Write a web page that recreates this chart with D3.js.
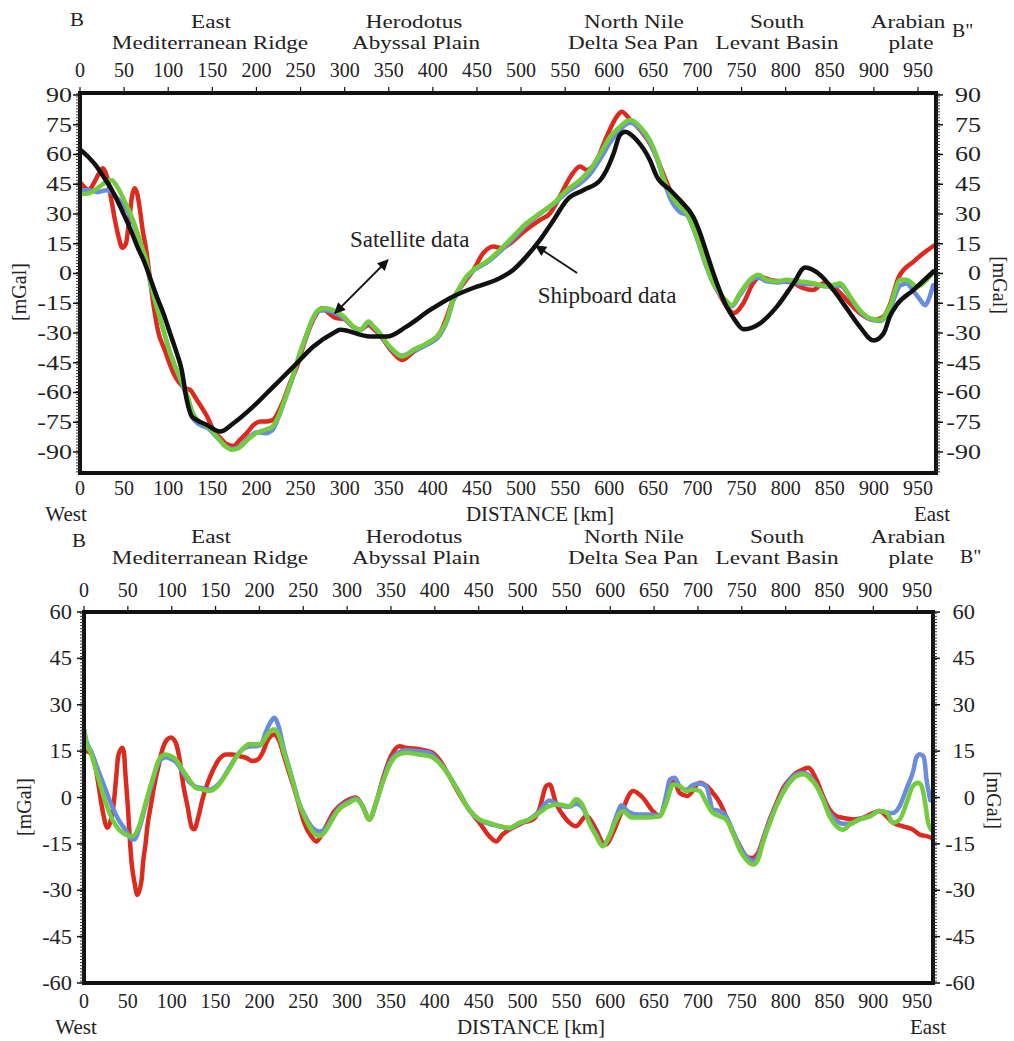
<!DOCTYPE html>
<html>
<head>
<meta charset="utf-8">
<script src="https://cdn.jsdelivr.net/npm/d3@7"></script>
<style>
  html, body { margin: 0; padding: 0; background: #fff; }
  svg { display: block; }
  text { font-family: "Liberation Serif", "Times New Roman", serif; fill: #222; }
</style>
</head>
<body>
<svg id="chart" width="1014" height="1041"></svg>
<script>
// ---- data: [distance km, anomaly mGal] ----
const topRed = [[0,46],[5,43.5],[10,42],[15,45],[21,50],[26,53],[31,48],[36,36],[40,26],[44,18],[48,13],[52,15],[56,28],[59,39],[62,43],[65,40],[68,32],[71,22],[75,12],[78,2],[83,-15],[89,-30],[96,-38.5],[100,-43.6],[106,-50.3],[113,-55.3],[119,-57.8],[125,-58.7],[130,-62],[136,-66.2],[144,-72],[151,-78.8],[159,-83],[166,-86],[174,-87],[181,-84],[189,-80.5],[197,-76.3],[204,-74.6],[212,-74.6],[219,-73.8],[225,-69.6],[231,-63.7],[238,-55.3],[246,-46.9],[253,-36.8],[261,-26.8],[268.5,-20],[274,-17.5],[282,-20],[290,-22.5],[299,-23],[310,-27],[318,-28.4],[327,-26],[333,-28],[340,-31],[348,-36],[355,-40],[365,-43.6],[378,-39.5],[393,-35.5],[408,-30],[416,-21.7],[423,-13],[435,-4.9],[446,1.8],[457,10.2],[469,13.6],[478,12.7],[487.5,15.2],[503,21.1],[521.5,27],[533,30.4],[544,38.8],[556,48.8],[567,53.9],[574.5,52.2],[586,57.2],[597,69],[608.5,79.1],[614,81.6],[624,77.4],[635,72.4],[650,62.3],[661,50.5],[670,41],[680,34],[688,30.4],[695,23.6],[703,13.6],[710.5,3.5],[718,-4.9],[725.6,-11],[733,-16.7],[741,-20],[752,-15],[763,-4.9],[771,-1.6],[782,-3.2],[797,-4],[809,-4.9],[820,-7.4],[831,-8.3],[843,-4.9],[854,-6.6],[869,-13.3],[884,-20],[899.5,-23.4],[910,-22],[918,-16],[928,-2],[945,6],[960,11.5],[968,14]];
const topBlue = [[0,42],[10,42],[20,41],[30,42],[36,41],[42,38],[50,34],[57,29],[64,21],[70,13],[75,6],[80,-5],[87,-16.7],[94.5,-28.4],[101,-38.5],[108,-47],[116,-56],[122,-64],[128,-73],[135,-76],[145,-78],[155,-82.5],[165,-87],[172,-88.5],[180,-87.5],[190,-83.5],[200,-80],[210,-80.5],[218,-79],[225,-72.5],[232,-64],[240,-54],[248,-42],[256,-32],[263,-24],[270,-19],[278,-18.5],[287,-19.5],[299,-22.5],[310,-27],[317.5,-28.6],[327,-25],[333,-27],[340,-30.5],[348,-35.5],[355,-39],[365,-41.5],[378,-39],[393,-36],[408,-31],[416,-24],[423,-14],[431,-7],[438,-2],[446,1.5],[461,5.5],[476,11],[491,17.5],[506,24.5],[521.5,30],[537,35],[552,41],[567,45.5],[578,50],[590,58],[601,66],[612,72.5],[623.6,76],[635,73],[646,66],[654,58],[661,48],[669,38],[680,31],[688,29.5],[695,23],[703,13],[710.5,3],[718,-5],[725.6,-10.5],[733,-14],[739,-16.5],[748,-11],[759.5,-4],[769,-2],[778.5,-4],[790,-4.5],[801,-4],[816,-5],[831,-5.5],[846.5,-6.5],[861.6,-6],[873,-12],[884,-19],[896,-23],[907,-24],[918,-18],[930,-6],[937,-5],[945,-9],[952,-13],[958,-16],[963,-12],[967,-6]];
const topGreen = [[0,40],[10,40.4],[20,43],[30,46.3],[36,47],[42,43.8],[50,37],[57,30.4],[64,22],[70,13.6],[75,6.8],[80,-5],[87,-16.7],[94.5,-28.4],[101,-38.5],[108,-47],[116,-55.3],[122,-62],[128,-70.4],[135,-74.6],[145,-77.2],[155,-82.2],[165,-87.2],[172,-88.9],[180,-88],[190,-83.9],[200,-80.5],[210,-78.8],[218,-77.2],[225,-72],[232,-63.7],[240,-53.6],[248,-41.9],[256,-31.8],[263,-23.4],[270,-18.4],[278,-17.5],[287,-18.4],[299,-21.7],[310,-26.8],[317.5,-28.4],[327,-24.2],[333,-26.8],[340,-30.1],[348,-35.2],[355,-38.5],[365,-41.9],[378,-38.5],[393,-35.2],[408,-30.1],[416,-23.4],[423,-13.3],[431,-6.6],[438,-1.6],[446,1.8],[461,6],[476,11.9],[491,18.6],[506,25.3],[521.5,30.4],[537,35.4],[552,42.1],[567,47.2],[578,52.2],[590,60.6],[601,69],[612,74],[623.6,77.4],[635,74],[646,67.3],[654,58.9],[661,48.8],[669,40.4],[680,33.7],[688,30.4],[695,23.6],[703,13.6],[710.5,3.5],[718,-4.9],[725.6,-10],[733,-14],[739,-16],[748,-10],[759.5,-3.2],[769,-0.7],[778.5,-3.2],[790,-4],[801,-3.2],[816,-4],[831,-4.9],[846.5,-6.6],[861.6,-4.9],[873,-11.6],[884,-18.4],[896,-22.6],[907,-23.4],[918,-16.7],[930,-3.2],[937,-3.2],[949,-6.6],[960,-3.2],[966,0]];
const topBlack = [[0,62.5],[10,58.5],[19,53.9],[27,48.5],[34,43.8],[42,37],[49,30.4],[55,24.5],[60.5,18.6],[66,12.5],[72,6.8],[79,-1.6],[87,-11.6],[94.5,-20],[102,-30],[109.6,-40],[115.3,-48.6],[121,-63.7],[126.6,-72],[132,-73.8],[143.6,-76.3],[158.8,-79.7],[173.9,-75.5],[196.6,-67],[219.3,-57],[242,-47],[264.6,-36.8],[287.3,-30],[295,-28.4],[329,-31.8],[348,-31.8],[370,-26.8],[397,-18.4],[423,-11.6],[450,-6.6],[472,-3.2],[491,1.8],[506,8.5],[521.5,16.9],[537,27],[552,37.1],[571,42.1],[590,47.2],[597,52.2],[605,60.6],[612,69.8],[618,71.5],[631,67.3],[646,57.2],[654,48.8],[669,42.1],[680,37],[695,28.7],[703,20.3],[710.5,10.2],[718,0.1],[725.6,-9.1],[733,-16.7],[741,-22.6],[752,-28.1],[771,-25.1],[790,-16.7],[809,-4.9],[822,3],[839,-0.7],[854,-8.3],[869,-17.5],[884,-26.8],[899.5,-33.8],[911,-30.2],[918,-21.7],[926,-15.8],[945,-8.3],[967.5,1]];

const botRed = [[0,15],[5.7,14.7],[11.4,12.3],[16,5],[21,-3.9],[26.6,-9.8],[30,-8],[34,-1.7],[37,7.5],[39,13.4],[43.7,16.1],[45.6,14.5],[47,8.5],[49.4,-0.6],[54.3,-21.2],[58,-28.2],[60.8,-31.5],[65.7,-26.6],[67.3,-21.2],[70.3,-14.7],[72.3,-9.3],[76.1,-2.8],[80,3.7],[85,10.2],[89.5,15.6],[95,18.8],[99,19.4],[104.6,17.7],[108.4,13.4],[113.4,3.7],[118,-2.8],[123,-9.8],[125.6,-10.3],[130.5,-6.1],[135,-0.7],[141,4.7],[146.5,8.5],[154,12.3],[162,13.9],[169,13.9],[177,13.4],[185,12.8],[192,11.8],[198,12.3],[203.6,14.5],[209,18.3],[213,19.9],[217,20.4],[222.6,18.3],[228,13.4],[234,8],[240,2.6],[245.5,-2.8],[251,-8.2],[259,-12.5],[265,-14.2],[270,-12.5],[278,-8.2],[284,-5],[291,-2.8],[302.5,-0.6],[310,0],[317.7,-2.8],[325.3,-7.1],[333,-1.7],[340.5,5.8],[350,13.4],[359.5,16.6],[367,16.1],[382,15.6],[397.5,14.5],[405,12.3],[416.5,6.9],[428,1],[439,-3.9],[451,-8.2],[462,-12.5],[470,-14.2],[477,-12],[489,-9.8],[500,-8.2],[512,-7.1],[519,-3.9],[527,3.7],[531,4.2],[538,-1.7],[550,-7.1],[561,-9.3],[572.5,-6.1],[584,-10.4],[591.5,-14.7],[595,-15.2],[603,-11.5],[614,-3.9],[626,2.1],[637,0],[648.5,-4.4],[656,-6],[668,2.6],[673,5.3],[679,1.5],[688,0.5],[702,4.8],[710,3.7],[717,1.5],[725,-1.7],[732,-6.1],[740,-11.5],[748,-15.8],[755,-19],[761,-19.6],[768.5,-17.9],[774,-13.6],[782,-7],[790,-1.5],[797,3],[805,6],[812,8],[820,9.1],[825.5,9.6],[835,5.8],[842.6,0.4],[850,-3.9],[858,-6.1],[865.5,-6.6],[877,-7.1],[888,-6.6],[900,-5],[907,-4.4],[915,-6.1],[922.6,-8.2],[934,-9.3],[945,-10.4],[953,-12],[960.6,-12.5],[966,-13]];
const botBlue = [[0,22],[3,18],[8,15],[14,10.5],[20,6],[26,1.5],[33,-3.5],[40,-7.5],[47.5,-10.5],[55,-13.6],[58,-13.5],[63,-10],[70.3,-2.5],[78,5],[85.5,11.5],[93,13],[99,12.5],[104.6,11.5],[112,8.5],[120,5],[127.4,3.5],[135,3],[142.6,2.5],[150,3.5],[158,6],[165.4,9.5],[173,13],[180.6,15.5],[188,16.5],[196,16.6],[201.5,17],[207,21],[213,24.5],[217,25.8],[222.4,22.5],[228,15.5],[234,9.5],[239.5,4],[245,-1.5],[253,-6.5],[260.4,-9.8],[268,-11],[273.7,-10.5],[281,-7.5],[289,-4],[302.5,-1.2],[310,-0.3],[317.7,-2.8],[325.3,-7],[333,-1.7],[340.5,5],[348,11],[355.7,14],[367,15.3],[382,15],[393.7,14.5],[405,11.5],[416.5,7],[428,1.5],[439,-3.9],[451,-7.3],[462,-8.5],[473.6,-9.3],[485,-10],[496,-8.5],[508,-7],[519,-4.5],[530.7,-1],[542,-2.5],[553.5,-3],[561,-2],[569,-3.5],[576,-8],[584,-12],[591.5,-15.5],[599,-12.5],[607,-6],[613,-2.5],[620,-4.5],[632,-5.5],[645,-5.5],[656,-6],[664,1],[667.8,5.8],[673.5,6.4],[679,3.7],[687,2.5],[694,4],[702,4.5],[709.6,3.5],[717,-3.9],[725,-4.4],[732,-6],[740,-11],[747.6,-16],[755,-19],[763,-20.5],[768.5,-19],[774,-14],[782,-7.5],[789.4,-2.5],[797,2],[804.6,5.5],[812,7.5],[820,8],[827,7],[835,4],[842.6,-0.5],[850,-5],[858,-7.5],[865.5,-8.5],[873,-8.5],[884.5,-7],[896,-6],[907,-4.4],[915,-4.8],[922.6,-5],[930,-2.8],[938,3],[945.4,8.5],[949,12.9],[953,14],[956.8,13.4],[958.7,11.2],[960.6,5.8],[962.5,2.6],[965,-1]];
const botGreen = [[0,22],[2.7,17.7],[7.6,14.5],[13.3,9.1],[19,3.7],[24.7,-1.7],[32.3,-7.1],[40,-10.4],[47.5,-12],[55,-12.5],[62.7,-9.3],[70.3,-1.7],[78,5.8],[85.5,12.3],[93,13.9],[99,13.4],[104.6,12.3],[112,9.1],[120,5.8],[127.4,3.1],[135,2.6],[142.6,2.1],[150,3.1],[158,5.8],[165.4,9.1],[173,12.8],[180.6,15.6],[188,17.2],[196,17.2],[201.5,17.2],[207,19.4],[213,21.5],[216.7,22.1],[222.4,19.9],[228,14.5],[234,9.1],[239.5,3.7],[245,-1.7],[253,-7.1],[260.4,-10.9],[268,-12.5],[273.7,-11.5],[281,-8.2],[289,-4.4],[302.5,-1.7],[310,-0.6],[317.7,-2.8],[325.3,-7.1],[333,-1.7],[340.5,4.8],[348,10.2],[355.7,13.4],[367,14.5],[382,13.9],[393.7,13.4],[405,11.2],[416.5,6.9],[428,1.5],[439,-3.9],[451,-7.1],[462,-8.2],[473.6,-9.3],[485,-9.8],[496,-8.2],[508,-7.1],[519,-5],[530.7,-2.8],[542,-2.3],[553.5,-2.8],[561,-0.6],[569,-2.8],[576,-8.2],[584,-12.5],[591.5,-15.8],[599,-12.5],[607,-7.1],[614,-4.4],[625,-6.5],[640,-6.5],[656,-6.1],[664,-1.7],[671.6,4.2],[679,3.7],[687,2.1],[694,2.6],[702,2.1],[709.6,-1.7],[717,-5],[725,-6.1],[732,-7.1],[740,-11.5],[747.6,-16.9],[755,-20.1],[763,-21.7],[768.5,-20.1],[774,-14.7],[782,-8.2],[789.4,-2.8],[797,1.5],[804.6,4.8],[812,6.9],[820,7.5],[827,6.4],[835,3.7],[842.6,-0.6],[850,-6.1],[858,-9.3],[865.5,-10.4],[873,-8.8],[884.5,-7.1],[896,-6.1],[907,-4.4],[915,-4.9],[922.6,-8.2],[930,-7.1],[938,-1.7],[945,3.7],[951,4.8],[955,3.7],[959,-1.7],[962.5,-8.2],[966,-10.5]];

const xTickValues = [0,50,100,150,200,250,300,350,400,450,500,550,600,650,700,750,800,850,900,950];
const topYTicks = [-90,-75,-60,-45,-30,-15,0,15,30,45,60,75,90];
const botYTicks = [-60,-45,-30,-15,0,15,30,45,60];

const regionLine1 = ['East', 'Herodotus', 'North Nile', 'South', 'Arabian'];
const regionLine2 = ['Mediterranean Ridge', 'Abyssal Plain', 'Delta Sea Pan', 'Levant Basin', 'plate'];

// annotation anchors in data units (km, mGal)
const satelliteArrow = [[289, -20], [349, 6.8]];
const shipboardArrow = [[563.5, 0.2], [517, 13.9]];
const satelliteText = [306, 13.4];
const shipboardText = [519, -14.9];

// ---- layout ----
const RED = '#dd2a1f', BLUE = '#6a8cdc', GREEN = '#72cc3e', BLACK = '#111';
const regionX1 = [211, 414, 634, 777, 908];
const regionX2 = [210, 416, 633, 777, 911];

const svg = d3.select('#chart');

svg.append('defs').append('marker')
  .attr('id', 'head')
  .attr('viewBox', '0 0 10 10')
  .attr('refX', 9).attr('refY', 5)
  .attr('markerUnits', 'userSpaceOnUse')
  .attr('markerWidth', 15).attr('markerHeight', 11)
  .attr('orient', 'auto-start-reverse')
  .append('path').attr('d', 'M0,0 L10,5 L0,10 z').attr('fill', '#111');

function stretched(g, x, y, str, size, sx, anchor) {
  return g.append('text')
    .attr('transform', `translate(${x},${y}) scale(${sx},1)`)
    .attr('text-anchor', anchor || 'middle')
    .style('font-size', size + 'px')
    .text(str);
}

function drawPanel(p) {
  const g = svg.append('g');
  const x = d3.scaleLinear().domain([0, p.xMax]).range([p.left, p.right]);
  const y = d3.scaleLinear().domain(p.yDomain).range([p.bottom, p.top]);

  // curves
  const line = d3.line()
    .x((d) => x(d[0]))
    .y((d) => y(d[1]))
    .curve(d3.curveMonotoneX);
  p.series.forEach(([data, color]) => {
    g.append('path')
      .datum(data)
      .attr('d', line)
      .attr('fill', 'none')
      .attr('stroke', color)
      .attr('stroke-width', 4.5)
      .attr('stroke-linecap', 'round')
      .attr('stroke-linejoin', 'round');
  });

  // frame
  g.append('rect')
    .attr('x', p.left).attr('y', p.top)
    .attr('width', p.right - p.left).attr('height', p.bottom - p.top)
    .attr('fill', 'none').attr('stroke', '#111').attr('stroke-width', 4);

  // minor ticks on both sides
  const minor = d3.range(p.yDomain[0] + 0.6, p.yDomain[1], p.minorStep);
  [p.left, p.right].forEach((sx, i) => {
    const dir = i === 0 ? -1 : 1;
    g.selectAll(null).data(minor).join('line')
      .attr('x1', sx).attr('x2', sx + dir * 4)
      .attr('y1', (d) => y(d)).attr('y2', (d) => y(d))
      .attr('stroke', '#333').attr('stroke-width', 1);
    g.selectAll(null).data(p.yTicks).join('line')
      .attr('x1', sx).attr('x2', sx + dir * 7)
      .attr('y1', (d) => y(d)).attr('y2', (d) => y(d))
      .attr('stroke', '#111').attr('stroke-width', 1.5);
  });

  // top ticks
  g.selectAll(null).data(xTickValues).join('line')
    .attr('x1', (d) => x(d)).attr('x2', (d) => x(d))
    .attr('y1', p.top).attr('y2', p.top - 6)
    .attr('stroke', '#111').attr('stroke-width', 1.2);

  // x tick labels, top and bottom
  [p.topTickBase, p.botTickBase].forEach((base) => {
    g.selectAll(null).data(xTickValues).join('text')
      .attr('x', (d) => x(d)).attr('y', base)
      .attr('text-anchor', 'middle')
      .style('font-size', '20px')
      .text((d) => d);
  });

  // y tick labels
  p.yTicks.forEach((v) => {
    stretched(g, p.leftLabelRight, y(v) + 7, v, 20, p.yStretch, 'end');
    stretched(g, p.rightLabelRight, y(v) + 7, v, 20, p.yStretch, 'end');
  });

  // [mGal]
  g.append('text')
    .attr('transform', `translate(${p.mgalLeft[0]},${p.mgalLeft[1]}) rotate(-90)`)
    .attr('text-anchor', 'middle').attr('dy', '0.35em')
    .style('font-size', '20px').text('[mGal]');
  g.append('text')
    .attr('transform', `translate(${p.mgalRight[0]},${p.mgalRight[1]}) rotate(90)`)
    .attr('text-anchor', 'middle').attr('dy', '0.35em')
    .style('font-size', '20px').text('[mGal]');

  // region names
  regionLine1.forEach((t, i) => stretched(g, regionX1[i], p.region1, t, 19, 1.22));
  regionLine2.forEach((t, i) => stretched(g, regionX2[i], p.region2, t, 19, 1.22));
  stretched(g, p.bPos[0], p.bPos[1], 'B', 19, 1.1, 'start');
  stretched(g, p.b2Pos[0], p.b2Pos[1], 'B"', 18, 1.1, 'start');

  // bottom captions
  g.append('text').attr('x', p.west[0]).attr('y', p.west[1])
    .attr('text-anchor', 'middle').style('font-size', '21px').text('West');
  g.append('text').attr('x', p.dist[0]).attr('y', p.dist[1])
    .attr('text-anchor', 'middle').style('font-size', '21px').text('DISTANCE [km]');
  g.append('text').attr('x', p.east[0]).attr('y', p.east[1])
    .attr('text-anchor', 'middle').style('font-size', '21px').text('East');

  return { g, x, y };
}

const topPanel = drawPanel({
  left: 80, right: 936, top: 93, bottom: 473,
  xMax: 970.4, yDomain: [-100.6, 91],
  yTicks: topYTicks, minorStep: 1.5, yStretch: 1.3,
  series: [[topRed, RED], [topBlue, BLUE], [topGreen, GREEN], [topBlack, BLACK]],
  topTickBase: 77, botTickBase: 495,
  leftLabelRight: 72, rightLabelRight: 981,
  mgalLeft: [19, 292], mgalRight: [1000, 285],
  region1: 28, region2: 49, bPos: [70, 26], b2Pos: [952, 37],
  west: [66, 521], dist: [540, 521], east: [932, 521],
});

drawPanel({
  left: 84, right: 933, top: 612, bottom: 983,
  xMax: 968, yDomain: [-60, 60],
  yTicks: botYTicks, minorStep: 1, yStretch: 1.12,
  series: [[botRed, RED], [botBlue, BLUE], [botGreen, GREEN]],
  topTickBase: 597, botTickBase: 1008,
  leftLabelRight: 72, rightLabelRight: 975,
  mgalLeft: [24, 807], mgalRight: [994, 800],
  region1: 543, region2: 564, bPos: [72, 547], b2Pos: [960, 563],
  west: [76, 1034], dist: [531, 1034], east: [928, 1034],
});

// annotations (top panel)
const ax = topPanel.x, ay = topPanel.y;
topPanel.g.append('line')
  .attr('x1', ax(satelliteArrow[0][0])).attr('y1', ay(satelliteArrow[0][1]))
  .attr('x2', ax(satelliteArrow[1][0])).attr('y2', ay(satelliteArrow[1][1]))
  .attr('stroke', '#111').attr('stroke-width', 1.8)
  .attr('marker-start', 'url(#head)').attr('marker-end', 'url(#head)');
topPanel.g.append('line')
  .attr('x1', ax(shipboardArrow[0][0])).attr('y1', ay(shipboardArrow[0][1]))
  .attr('x2', ax(shipboardArrow[1][0])).attr('y2', ay(shipboardArrow[1][1]))
  .attr('stroke', '#111').attr('stroke-width', 1.8)
  .attr('marker-end', 'url(#head)');
topPanel.g.append('text')
  .attr('x', ax(satelliteText[0])).attr('y', ay(satelliteText[1]))
  .style('font-size', '23px').text('Satellite data');
topPanel.g.append('text')
  .attr('x', ax(shipboardText[0])).attr('y', ay(shipboardText[1]))
  .style('font-size', '23px').text('Shipboard data');
</script>
</body>
</html>
